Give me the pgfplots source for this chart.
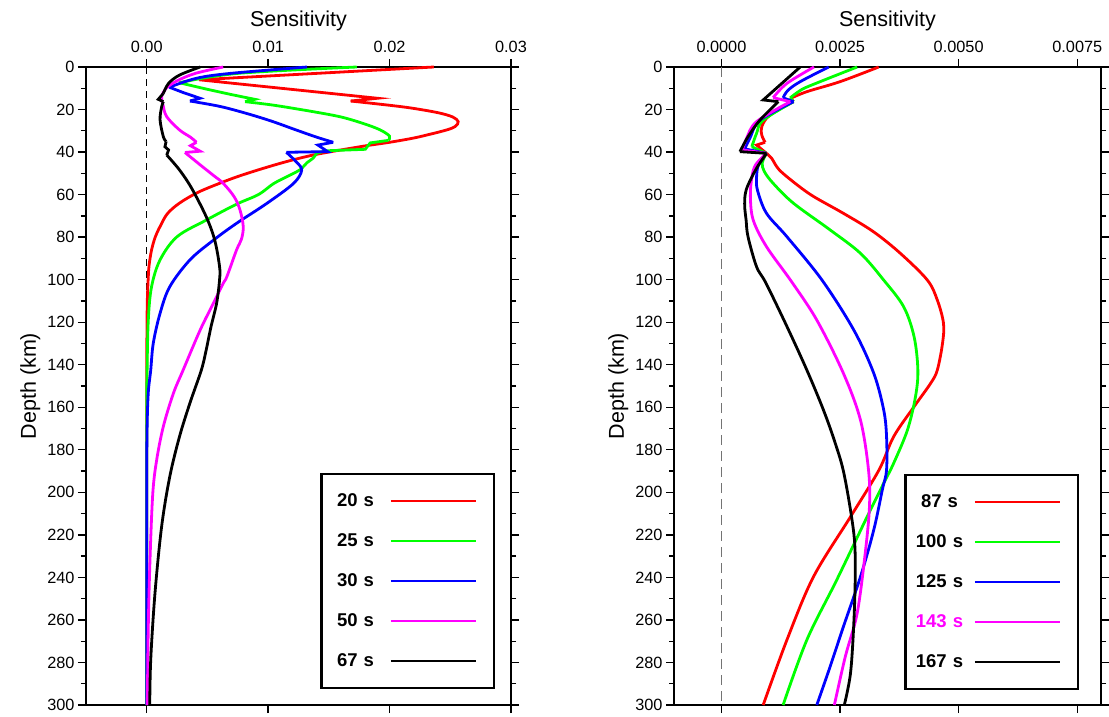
\documentclass[border=0pt]{standalone}
\usepackage{pgfplots}
\pgfplotsset{compat=1.18}
\usepackage{fontspec}
\setmainfont{Liberation Sans}
\definecolor{gR}{RGB}{255,0,0}
\definecolor{gG}{RGB}{0,255,0}
\definecolor{gB}{RGB}{0,0,255}
\definecolor{gM}{RGB}{255,0,255}
\begin{document}
\begin{tikzpicture}
\path[use as bounding box] (0pt,0pt) rectangle (1109pt,717pt);
\pgfplotsset{
 gmt/.style={
  scale only axis, height=638pt,
  y dir=reverse, ymin=0, ymax=300,
  ytick={0,20,...,300}, minor ytick={10,30,...,290},
  tick align=outside, tick pos=both,
  xticklabel pos=upper,
  scaled x ticks=false,
  axis line style={line width=2.4pt},
  every tick/.style={line width=1.3pt, black},
  major tick length=8pt, minor tick length=5pt,
  clip=false,
  ticklabel style={font=\fontsize{16.3}{18}\selectfont},
  xticklabel style={yshift=3pt},
  /pgf/number format/assume math mode=true,
  xlabel={Sensitivity}, ylabel={Depth (km)},
  label style={font=\fontsize{21.5}{24}\selectfont},
  xlabel style={yshift=3pt},
  legend plot pos=right,
  legend image code/.code={\draw[##1, line width=2.8pt] (0pt,0pt) -- (85pt,0pt); \path[draw=none,fill=none] (0pt,-20pt) rectangle (103pt,20pt);},
  legend style={draw=black, line width=2.2pt, inner xsep=0pt, inner ysep=7pt,
     row sep=0pt, column sep=0pt, fill=white,
     font=\fontsize{18.5}{20}\selectfont\bfseries,
     nodes={inner sep=0pt, text width=68pt, align=center}},
 },
 sm/.style={smooth, tension=0.55, line width=2.8pt, forget plot},
 jg/.style={sharp plot, line width=2.8pt, forget plot},
 lg/.style={smooth, tension=0.55, line width=2.8pt},
}
\begin{axis}[gmt, at={(86pt,12pt)}, anchor=south west, width=425pt,
  xmin=-0.005, xmax=0.03,
  xtick={0,0.01,0.02,0.03}, xticklabels={0.00,0.01,0.02,0.03},
  legend style={at={(0.9624,0.025)}, anchor=south east}]
\addplot[black, line width=0.9pt, dash pattern=on 7pt off 5pt, forget plot] coordinates {(0,0) (0,300)};
% 20 s
\addplot[gR, jg] coordinates {(0.02365,0) (0.0043,6) (0.0190,14.7) (0.0168,16.0)};
\addplot[gR, lg] coordinates {
(0.0168,16.0) (0.0200,18) (0.0219,19.4) (0.0240,21.5) (0.0252,23.5) (0.02565,25.7) (0.0254,28) (0.0247,29.6) (0.0232,31.8) (0.0219,33.5) (0.0200,35.4) (0.0181,37) (0.0160,39) (0.0137,41.4) (0.0115,44.5) (0.0094,48) (0.0075,51.5) (0.0060,54.7) (0.0042,59) (0.0027,64) (0.0017,69) (0.0011,75) (0.0007,80) (0.0004,86) (0.0002,93) (0.00013,98.6) (0.00005,110) (0.00002,125) (0,150) (0,300)};
\addlegendentry{20 s}
% 25 s
\addplot[gG, sm] coordinates {(0.0173,0) (0.0075,3) (0.00268,7.4)};
\addplot[gG, jg] coordinates {(0.00268,7.4) (0.0050,10.5) (0.0070,13) (0.0089,15.2) (0.0081,16.3)};
\addplot[gG, sm] coordinates {(0.0081,16.3) (0.0105,18) (0.0137,21) (0.0160,23.5) (0.0178,26.5) (0.0192,29.5) (0.0200,32.5) (0.0199,34.5)};
\addplot[gG, jg] coordinates {(0.0199,34.5) (0.0184,35.7) (0.0180,38.7) (0.0148,39.4) (0.0140,40.5)};
\addplot[gG, lg] coordinates {
(0.0140,40.5) (0.0137,42.9) (0.0132,45) (0.0126,48.4) (0.0114,52) (0.0104,55) (0.0092,60) (0.0074,64.5) (0.0049,72) (0.0025,79.8) (0.0011,90.7) (0.0004,103.3) (0.00013,119) (0.00003,143) (0,170) (0,300)};
\addlegendentry{25 s}
% 30 s
\addplot[gB, sm] coordinates {(0.0132,0) (0.0069,3) (0.0041,5.3) (0.00186,9.5)};
\addplot[gB, jg] coordinates {(0.00186,9.5) (0.0030,12) (0.00439,14.7) (0.00356,16.0)};
\addplot[gB, sm] coordinates {(0.00356,16.0) (0.0060,18.5) (0.0082,21.8) (0.0103,25.5) (0.0123,29.6) (0.0140,33) (0.01536,35.4)};
\addplot[gB, jg] coordinates {(0.01536,35.4) (0.0141,36.7) (0.0149,39.8) (0.0115,40.1)};
\addplot[gB, lg] coordinates {
(0.0115,40.1) (0.0123,44.5) (0.01276,48.5) (0.0121,54.7) (0.0099,64.1) (0.0074,73.5) (0.0055,81.4) (0.00356,90.7) (0.0019,103.3) (0.0011,115.8) (0.00054,129.9) (0.00033,142.6) (0.00013,153) (0.00003,170) (0,200) (0,300)};
\addlegendentry{30 s}
% 50 s
\addplot[gM, sm] coordinates {(0.0063,0) (0.0040,3) (0.0025,6.5) (0.0016,10) (0.00123,14) (0.00135,18) (0.00165,23.4) (0.0027,29.6) (0.0036,33) (0.0041,35.4)};
\addplot[gM, jg] coordinates {(0.0041,35.4) (0.0036,37) (0.0044,39.6) (0.00315,40.2)};
\addplot[gM, lg] coordinates {
(0.00315,40.2) (0.0044,46) (0.0055,51) (0.0063,54.7) (0.0072,61) (0.00768,67.2) (0.00795,75) (0.0078,81) (0.0074,86) (0.0066,98.6) (0.0063,101.7) (0.0055,111) (0.0044,123.7) (0.0030,142.5) (0.0022,153.4) (0.00137,169) (0.00082,184.8) (0.0005,200.5) (0.00027,231.8) (0.00013,263) (0.00005,300)};
\addlegendentry{50 s}
% 67 s
\addplot[black, sm] coordinates {(0.0044,0) (0.0027,3.8) (0.0018,7.7) (0.00137,12.4)};
\addplot[black, jg] coordinates {(0.00137,12.4) (0.00095,15.2) (0.00137,16.3)};
\addplot[black, sm] coordinates {(0.00137,16.3) (0.00123,18.7) (0.0011,24.9) (0.00137,32.8) (0.0016,35)};
\addplot[black, jg] coordinates {(0.0016,35) (0.0015,37.5) (0.0018,39) (0.00165,41.4)};
\addplot[black, lg] coordinates {
(0.00165,41.4) (0.0027,48.4) (0.0037,57) (0.0049,70.4) (0.0056,81.4) (0.0060,93.9) (0.0060,100) (0.00576,111) (0.0053,122) (0.0049,133) (0.0045,142.5) (0.00356,158) (0.0027,173.8) (0.0019,192.6) (0.00123,216) (0.00068,247.5) (0.00033,278.8) (0.00025,300)};
\addlegendentry{67 s}
\end{axis}
\begin{axis}[gmt, at={(674pt,12pt)}, anchor=south west, width=427pt,
  xmin=-0.001, xmax=0.008,
  xtick={0,0.0025,0.005,0.0075}, xticklabels={0.0000,0.0025,0.0050,0.0075},
  legend style={at={(0.9485,0.0235)}, anchor=south east}]
\addplot[black!55, line width=1.5pt, dash pattern=on 10pt off 6pt, forget plot] coordinates {(0,0) (0,300)};
% 87 s
\addplot[gR, sm] coordinates {(0.003315,0) (0.0025,6.9) (0.0018,11.6) (0.00145,14.8)};
\addplot[gR, jg] coordinates {(0.00145,14.8) (0.00152,16.3)};
\addplot[gR, sm] coordinates {(0.00152,16.3) (0.00102,22.6) (0.00085,28) (0.00085,32) (0.00092,35.4)};
\addplot[gR, jg] coordinates {(0.00092,35.4) (0.00074,36.7) (0.00095,40.6)};
\addplot[gR, lg] coordinates {
(0.00095,40.6) (0.00106,43) (0.00122,48.4) (0.0016,55.5) (0.00195,61) (0.00257,68.8) (0.0032,77.4) (0.00377,87.6) (0.00434,100.2) (0.00455,109.6) (0.00468,120.5) (0.00466,129.9) (0.00455,142.5) (0.00441,148.7) (0.00406,159.7) (0.00363,173.8) (0.00332,189.5) (0.00272,211.5) (0.00194,239.7) (0.00138,269.4) (0.00088,300)};
\addlegendentry{87 s}
% 100 s
\addplot[gG, sm] coordinates {(0.00286,0) (0.00208,6.9) (0.0017,10.5) (0.00145,14.5)};
\addplot[gG, jg] coordinates {(0.00145,14.5) (0.00152,16.3)};
\addplot[gG, sm] coordinates {(0.00152,16.3) (0.00088,25) (0.00074,31.2) (0.00064,37.5)};
\addplot[gG, jg] coordinates {(0.00064,37.5) (0.00095,40.6)};
\addplot[gG, lg] coordinates {
(0.00095,40.6) (0.00086,45) (0.00090,49) (0.00109,54.7) (0.00152,64.1) (0.00229,76.6) (0.00293,87.6) (0.00342,100.2) (0.00384,112.7) (0.00406,126.8) (0.00414,142.5) (0.00409,155) (0.00392,170.7) (0.00363,186.3) (0.00342,195.7) (0.00307,211.5) (0.00243,241.2) (0.0018,269.4) (0.0013,300)};
\addlegendentry{100 s}
% 125 s
\addplot[gB, sm] coordinates {(0.00226,0) (0.00166,6.9) (0.0014,11) (0.00130,14.5)};
\addplot[gB, jg] coordinates {(0.00130,14.5) (0.00152,16.3)};
\addplot[gB, sm] coordinates {(0.00152,16.3) (0.00081,25) (0.0006,33.5) (0.00049,38.5)};
\addplot[gB, jg] coordinates {(0.00049,38.5) (0.00095,40.6)};
\addplot[gB, lg] coordinates {
(0.00095,40.6) (0.00078,46) (0.00074,52) (0.00076,58) (0.00095,68.8) (0.00138,79.8) (0.00212,100.2) (0.00279,123.7) (0.00321,144) (0.00342,161.3) (0.00348,173.8) (0.00348,189.5) (0.00339,198.9) (0.00321,217.7) (0.00293,239.7) (0.00257,263.2) (0.00229,282) (0.00201,300)};
\addlegendentry{125 s}
% 143 s
\addplot[gM, sm] coordinates {(0.00195,0) (0.00138,7.7) (0.00109,14.4)};
\addplot[gM, jg] coordinates {(0.00109,14.4) (0.00145,16.3)};
\addplot[gM, sm] coordinates {(0.00145,16.3) (0.00074,25.7) (0.00053,33.5) (0.00044,39)};
\addplot[gM, jg] coordinates {(0.00044,39) (0.00095,40.6)};
\addplot[gM, lg] coordinates {
(0.00095,40.6) (0.00072,46) (0.00064,52) (0.00061,61) (0.00067,72) (0.00095,84.5) (0.00148,101) (0.00201,119) (0.00257,144) (0.00293,166) (0.0031,189.5) (0.00312,206.7) (0.00303,228.7) (0.00286,256.9) (0.00261,277.3) (0.00238,300)};
\addlegendentry{\textcolor{gM}{143 s}}
% 167 s
\addplot[black, jg] coordinates {(0.00166,0) (0.00088,15.5) (0.0012,16.3)};
\addplot[black, sm] coordinates {(0.0012,16.3) (0.00081,25) (0.00056,32.8) (0.00039,39.8)};
\addplot[black, jg] coordinates {(0.00039,39.8) (0.00095,40.6)};
\addplot[black, lg] coordinates {
(0.00095,40.6) (0.00074,47.6) (0.00056,55.5) (0.0005,60) (0.00049,65.7) (0.00052,72) (0.00056,79.8) (0.00074,93.9) (0.00094,101.7) (0.00138,122) (0.0018,142.5) (0.00215,161.3) (0.0024,177) (0.00259,192) (0.00279,219.3) (0.00282,238) (0.00279,261.6) (0.00272,285.1) (0.00259,300)};
\addlegendentry{167 s}
\end{axis}
\end{tikzpicture}
\end{document}
